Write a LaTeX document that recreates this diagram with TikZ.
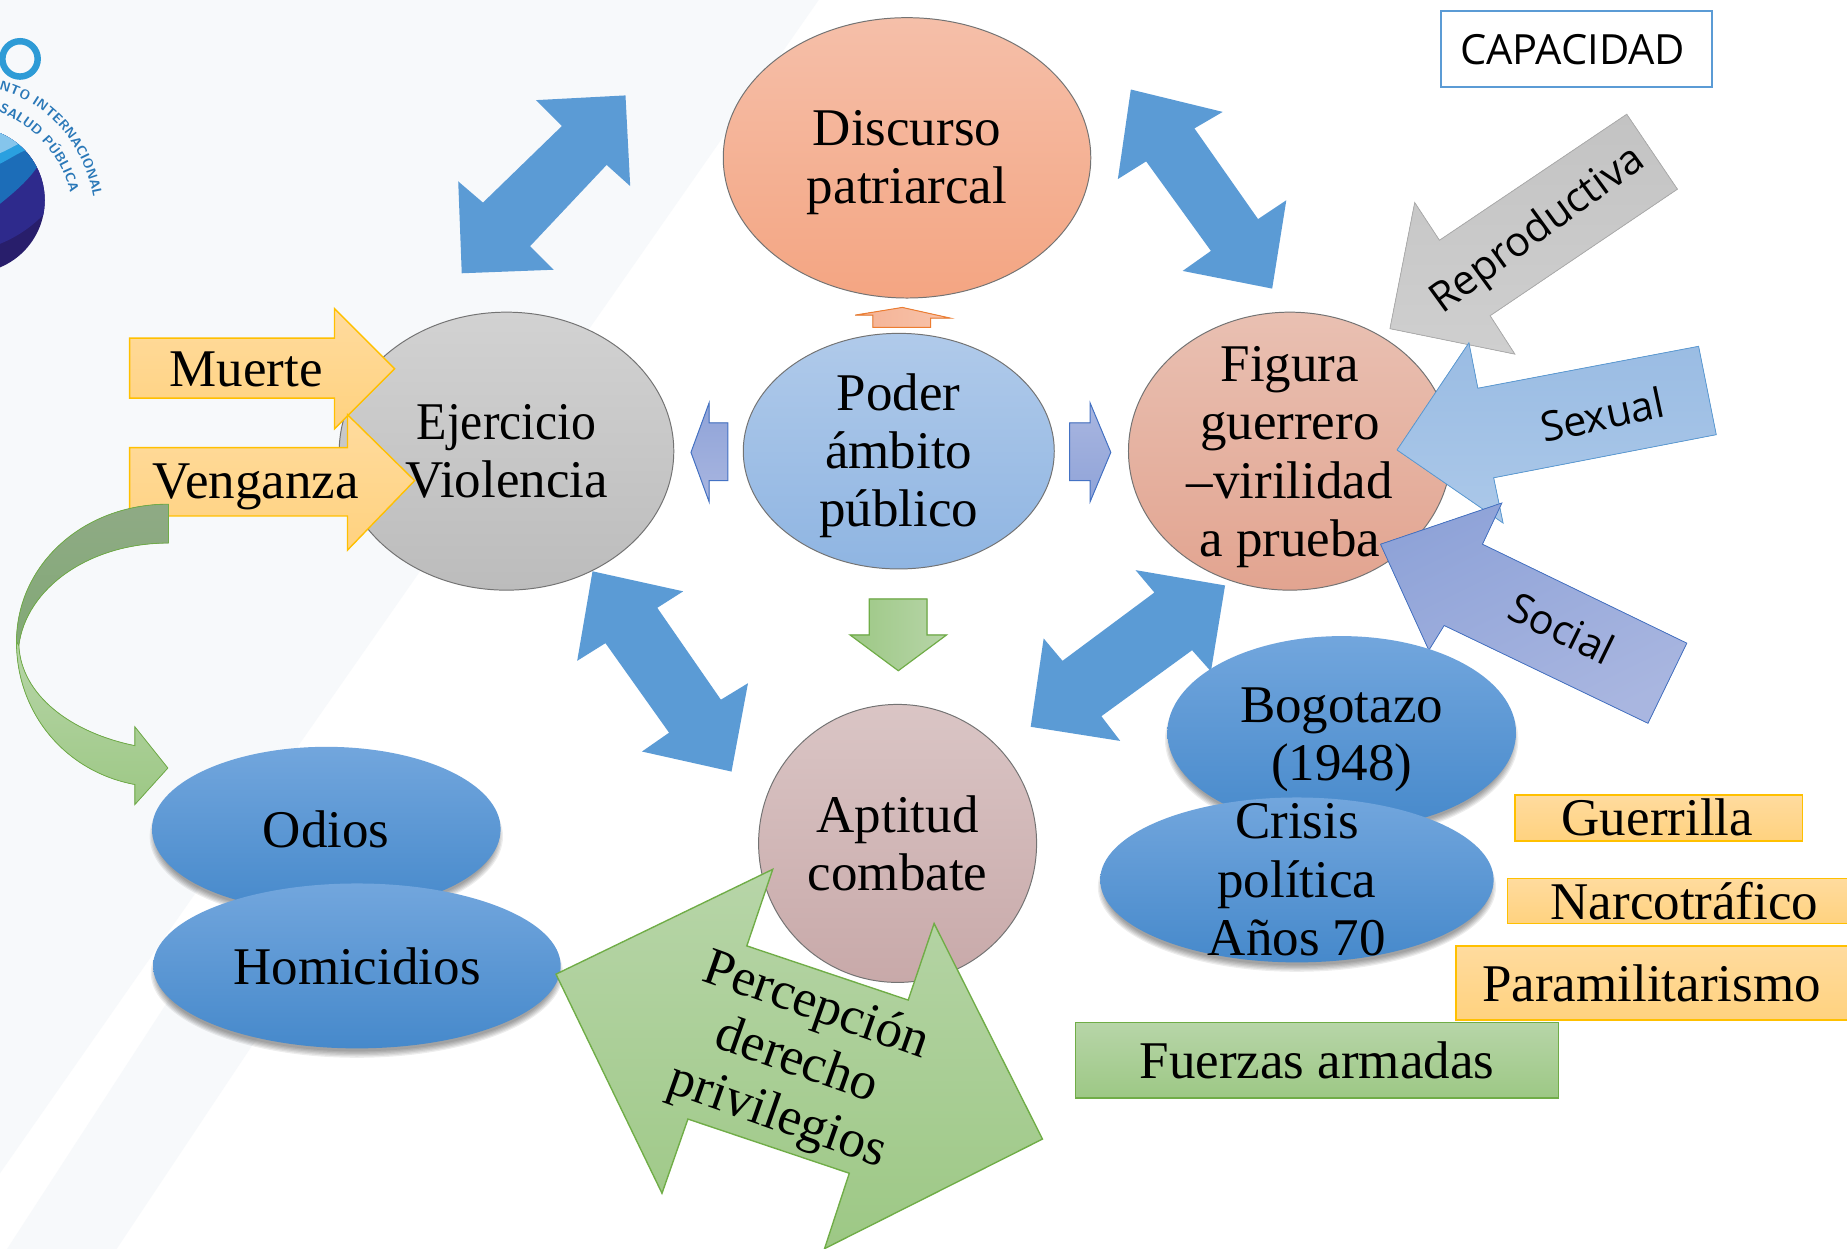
\documentclass[tikz,border=0pt]{standalone}
\usepackage{fontspec}
\setmainfont{Liberation Serif}
\newfontfamily\lblsans{Open Sans}
\usetikzlibrary{shapes.geometric,decorations.text}
\definecolor{arrowblue}{HTML}{5B9BD5}
\definecolor{pageTint}{HTML}{F7F9FB}
\definecolor{goldline}{HTML}{FFC000}
\definecolor{greenline}{HTML}{70AD47}
\definecolor{orangeA}{HTML}{FFDB9E}
\definecolor{orangeB}{HTML}{FFD27F}
\definecolor{greenA}{HTML}{B7D5A8}
\definecolor{greenB}{HTML}{9DC885}
\definecolor{blueA}{HTML}{72A6DD}
\definecolor{blueM}{HTML}{5799DA}
\definecolor{blueB}{HTML}{4689CB}
\definecolor{discA}{HTML}{F5BFA9}
\definecolor{discB}{HTML}{F4A582}
\definecolor{poderA}{HTML}{B0CAEA}
\definecolor{poderB}{HTML}{8FB5E2}
\definecolor{figA}{HTML}{E9C0B2}
\definecolor{figB}{HTML}{E2A490}
\definecolor{aptA}{HTML}{DAC5C5}
\definecolor{aptB}{HTML}{C8A9A9}
\definecolor{ejerA}{HTML}{D2D2D2}
\definecolor{ejerB}{HTML}{BCBCBC}
\definecolor{repA}{HTML}{C3C3C3}
\definecolor{repB}{HTML}{CFCFCF}
\definecolor{sexA}{HTML}{9ABCE3}
\definecolor{sexB}{HTML}{ABC8E9}
\definecolor{socA}{HTML}{8FA3D8}
\definecolor{socB}{HTML}{A9B6E0}
\definecolor{socline}{HTML}{4472C4}
\definecolor{upA}{HTML}{F4B295}
\definecolor{upB}{HTML}{F8C3AA}
\definecolor{upline}{HTML}{ED7D31}
\definecolor{darkgA}{HTML}{8FAA85}
\definecolor{darkgB}{HTML}{82A976}
\definecolor{ringc}{HTML}{2E9BD6}
\definecolor{logotxt}{HTML}{2A78B8}
\definecolor{logoA}{HTML}{281E6B}
\definecolor{logoB}{HTML}{2E2A8C}
\definecolor{logoC}{HTML}{1C6DB8}
\definecolor{logoD}{HTML}{2AA0E0}
\definecolor{logoE}{HTML}{85C5EC}
\tikzset{
 x=0.6pt,y=-0.6pt,
 bigtxt/.style={font=\fontsize{27}{29.7}\selectfont,align=center,inner sep=0pt,text=black},
 sanstxt/.style={font=\lblsans\fontsize{21}{25}\selectfont,align=center,inner sep=0pt,text=black},
 dblarrow/.style={fill=arrowblue},
 orangefill/.style={top color=orangeA,bottom color=orangeB,draw=goldline,line width=0.7pt},
 greenfill/.style={top color=greenA,bottom color=greenB,draw=greenline,line width=0.7pt},
 sidefill/.style={top color=socA,bottom color=socB,draw=socline,line width=0.5pt},
 downfill/.style={left color=greenB,right color=greenA,draw=greenline,line width=0.6pt},
 logolabel/.style={decoration={text along path,text align={align=left},text={|\sffamily\bfseries\fontsize{6.8}{8}\selectfont\color{logotxt}|#1}},decorate},
}
\newcommand{\softshadow}[4]{% cx cy rx ry
 \foreach \k in {0,1,...,5}{
  \fill[black,opacity=0.07] (#1,#2+6) ellipse [x radius={#3+2-\k*1.1},y radius={#4+2-\k*1.1}];
 }
}
\newcommand{\plainoval}[7]{% name cx cy rx ry top bottom
 \node[ellipse,inner sep=0pt,minimum width=#4*1.2pt,minimum height=#5*1.2pt,top color=#6,bottom color=#7,draw=black!55,line width=0.5pt] (#1) at (#2,#3) {};
}
\newcommand{\blueoval}[8]{% name cx cy rx ry text tx ty
 \softshadow{#2}{#3}{#4}{#5}
 \node[ellipse,inner sep=0pt,minimum width=#4*1.2pt,minimum height=#5*1.2pt,top color=blueA,middle color=blueM,bottom color=blueB] (#1) at (#2,#3) {};
 \node[bigtxt] (#1t) at (#7,#8) {#6};
}
\begin{document}
\begin{tikzpicture}
\useasboundingbox (0,0) rectangle (1568,1060.3);
\fill[white] (0,0) rectangle (1568,1060.3);
\fill[pageTint] (0,0) -- (695,0) -- (0,996) -- cycle;
\fill[pageTint] (162,820) -- (259,820) -- (99,1060.3) -- (6,1060.3) -- cycle;

% logo
\begin{scope}
 \clip (0,0) rectangle (120,260);
 \draw[line width=3.3pt,color=ringc] (17,50) circle (15);
 \begin{scope}
  \clip (-23.7,170) circle (61.7);
  \fill[logoA] (-90,100) rectangle (60,240);
  \fill[logoB] (-90,100) -- (60,100) -- (60,160) -- (38,181) .. controls (25,195) and (10,203) .. (0,207) -- (-90,240) -- cycle;
  \fill[logoC] (-90,100) -- (60,100) -- (30,144) .. controls (22,155) and (10,165) .. (0,173) -- (-90,200) -- cycle;
  \fill[logoD] (-90,100) -- (60,100) -- (23,127) .. controls (15,130) and (8,135) .. (0,139) -- (-90,180) -- cycle;
  \fill[logoE] (-90,100) -- (60,100) -- (14,123) .. controls (10,125) and (5,128) .. (0,130) -- (-90,170) -- cycle;
 \end{scope}
 \path[postaction={logolabel={NTO INTERNACIONAL}}]
   (-1,76) .. controls (38,86) and (72,120) .. (80,172);
 \path[postaction={logolabel={SALUD PÚBLICA}}]
   (-1,95) .. controls (26,106) and (54,130) .. (61,170);
\end{scope}

% double arrows
\fill[dblarrow] (531,81) -- (455,85) -- (477,107) -- (410,172) -- (389,154) -- (392,232) -- (470,229) -- (450,209) -- (515,140) -- (535,158) -- cycle;
\fill[dblarrow] (960,76) -- (1038,95) -- (1014,109) -- (1068,186) -- (1092,170) -- (1080,245) -- (1004,230) -- (1028,213) -- (973,137) -- (949,152) -- cycle;
\fill[dblarrow] (503,485) -- (580,502) -- (558,516) -- (612,594) -- (635,580) -- (621,655) -- (545,638) -- (568,622) -- (514,546) -- (490,561) -- cycle;
\fill[dblarrow] (1040,497) -- (964,484) -- (980,503) -- (902,561) -- (886,542) -- (875,617) -- (951,629) -- (935,608) -- (1012,552) -- (1028,570) -- cycle;

% ovals
\plainoval{disc}{770}{134}{156}{119}{discA}{discB}
\node[bigtxt] (disct) at (770,138) {Discurso\\patriarcal};
\plainoval{ejer}{430}{383}{142}{118}{ejerA}{ejerB}
\node[bigtxt] (ejert) at (430,383) {\scalebox{0.94}[1]{Ejercicio}\\Violencia};
\plainoval{poder}{763}{383}{132}{100}{poderA}{poderB}
\node[bigtxt] (podert) at (763,387) {Poder\\ámbito\\público};
\plainoval{fig}{1095}{383}{137}{118}{figA}{figB}
\node[bigtxt] (figt) at (1095,388) {Figura\\guerrero\\–virilidad\\a prueba};
\plainoval{apt}{762}{716}{118}{118}{aptA}{aptB}
\node[bigtxt] (aptt) at (762,716) {Aptitud\\combate};

% small arrows
\filldraw[left color=upA,right color=upB,draw=upline,line width=0.5pt] (766,261) -- (806.5,270) -- (790,270) -- (790,278) -- (741,278) -- (741,267.5) -- (726,267.5) -- cycle;
\filldraw[sidefill] (586.6,384) -- (602,342) -- (602,359) -- (618,359) -- (618,408) -- (602,408) -- (602,426) -- cycle;
\filldraw[top color=socB,bottom color=socA,draw=socline,line width=0.5pt] (943,384) -- (925.4,342) -- (925.4,359) -- (908,359) -- (908,408) -- (925.4,408) -- (925.4,426) -- cycle;
\filldraw[downfill] (738,508.5) -- (787,508.5) -- (787,539) -- (803.6,539) -- (762.6,569.4) -- (721.6,539) -- (738,539) -- cycle;

% arrows left
\filldraw[orangefill] (110,287) -- (284,287) -- (284,262) -- (335,313) -- (284,364) -- (284,338) -- (110,338) -- cycle;
\node[bigtxt] (muerte) at (209,314) {Muerte};
\filldraw[orangefill] (110,380) -- (295,380) -- (295,352) -- (352,408) -- (295,467) -- (295,438) -- (110,438) -- cycle;
\node[bigtxt] (venganza) at (217,413) {Venganza};

% curved arrow
\filldraw[top color=darkgA,bottom color=darkgB,draw=greenline,line width=0.4pt]
 (143,428) .. controls (70,428) and (14,480) .. (14,545) -- (16,548) .. controls (22,500) and (75,461) .. (143,461) -- cycle;
\filldraw[top color=greenA,bottom color=greenB,draw=greenline,line width=0.4pt]
 (14,545) .. controls (14,605) and (55,655) .. (114.5,666) -- (114.5,683) -- (142.5,652) -- (114.5,617) -- (114.5,633) .. controls (60,622) and (18,590) .. (16,548) -- cycle;

% right capacity arrows
\filldraw[top color=repA,bottom color=repB,draw=black!32,line width=0.4pt] (1180,279) -- (1201,172) -- (1222,204) -- (1381,97) -- (1424,160.6) -- (1265,268) -- (1286,300.6) -- cycle;
\node[sanstxt] (repro) [rotate=36] at (1306,196) {Reproductiva};
\filldraw[top color=sexA,bottom color=sexB,draw=arrowblue,line width=0.4pt] (1186,382) -- (1247,291) -- (1254.6,329.6) -- (1442,294) -- (1457,369) -- (1268,405.6) -- (1276,444) -- cycle;
\node[sanstxt,rotate=12] (sexual) at (1360,352) {Sexual};
\filldraw[top color=socA,bottom color=socB,shading angle=26,draw=socline,line width=0.4pt] (1172,462) -- (1275,427) -- (1258.5,462) -- (1432,546) -- (1399,614) -- (1226,531) -- (1213,552) -- cycle;
\node[sanstxt,rotate=-26] (social) at (1326,533) {Social};

% blue ovals
\blueoval{odios}{277}{704}{148}{70}{Odios}{277}{704}
\blueoval{homi}{303}{820}{173}{70}{Homicidios}{303}{820}
\blueoval{bogo}{1139}{622}{148}{82}{Bogotazo\\(1948)}{1139}{628}
\blueoval{crisis}{1101}{747}{167}{70}{Crisis\\política\\Años 70}{1101}{747}

% big green arrow
\filldraw[greenfill] (472,827) -- (656,738) -- (634,803) -- (771,849) -- (793,784) -- (885,967) -- (700,1060) -- (721,996) -- (584,950) -- (562,1013) -- cycle;
\node[bigtxt,rotate=-19.5] (perc) at (676,902) {Percepción\\derecho\\privilegios};

% boxes
\node[draw=arrowblue,fill=white,line width=1pt,minimum width=138pt,minimum height=39pt,inner sep=0pt] (cap) at (1338,41.5) {};
\node[font=\lblsans\fontsize{21.2}{25}\selectfont,inner sep=0pt] (capt) at (1335,42) {CAPACIDAD};
\filldraw[orangefill] (1286,675) rectangle (1530,714);
\node[bigtxt] (guer) at (1407,694) {Guerrilla};
\filldraw[orangefill] (1280,746) rectangle (1575,784);
\node[bigtxt] (narco) at (1430,765) {Narcotráfico};
\filldraw[orangefill] (1236,803) rectangle (1575,866);
\node[bigtxt] (para) at (1402,835) {Paramilitarismo};
\filldraw[greenfill] (913,868) rectangle (1323,932);
\node[bigtxt] (fuer) at (1118,900) {Fuerzas armadas};
\end{tikzpicture}
\end{document}
